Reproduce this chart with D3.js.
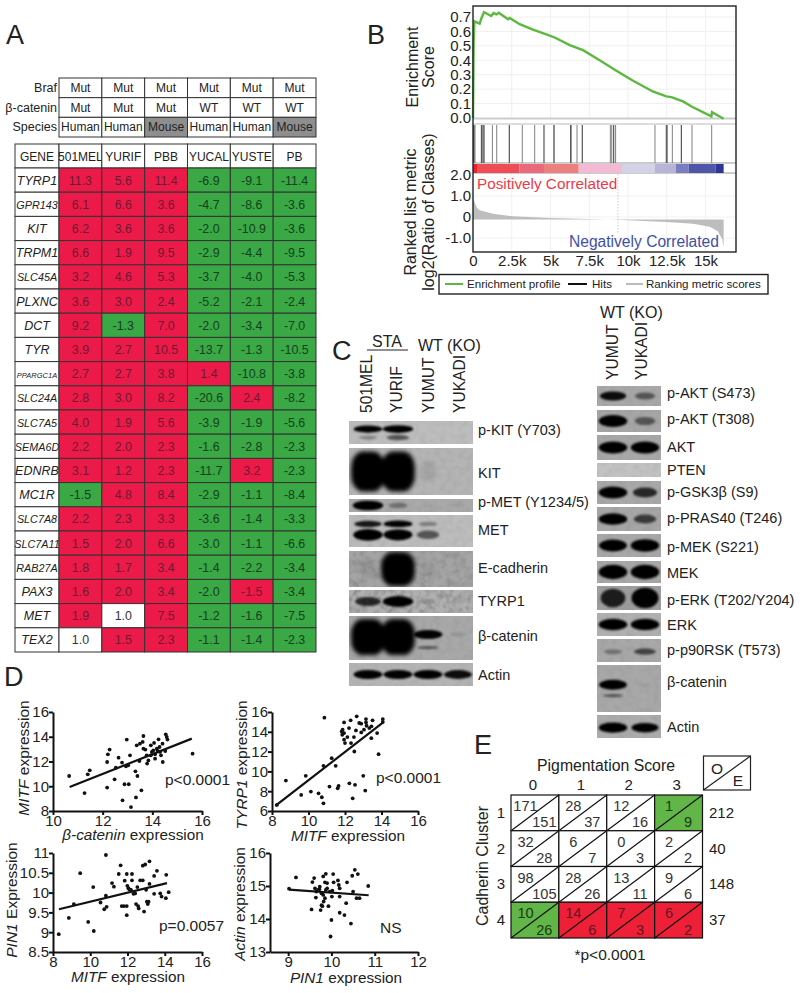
<!DOCTYPE html>
<html>
<head>
<meta charset="utf-8">
<script src="https://cdn.jsdelivr.net/npm/d3@7"></script>
<style>
body { margin: 0; background: #fff; }
text { font-family: "Liberation Sans", Arial, sans-serif; fill: #222; }
</style>
</head>
<body>
<div id="chart"></div>
<script>
// Panel A
const samples = ["501MEL", "YURIF", "PBB", "YUCAL", "YUSTE", "PB"];
const metaNames = ["Braf", "β-catenin", "Species"];
const brafRow = ["Mut", "Mut", "Mut", "Mut", "Mut", "Mut"];
const cateninRow = ["Mut", "Mut", "Mut", "WT", "WT", "WT"];
const speciesRow = ["Human", "Human", "Mouse", "Human", "Human", "Mouse"];
const genes = ["TYRP1", "GPR143", "KIT", "TRPM1", "SLC45A", "PLXNC", "DCT", "TYR", "PPARGC1A", "SLC24A",
    "SLC7A5", "SEMA6D", "EDNRB", "MC1R", "SLC7A8", "SLC7A11", "RAB27A", "PAX3", "MET", "TEX2"];
const val501MEL = [11.3, 6.1, 6.2, 6.6, 3.2, 3.6, 9.2, 3.9, 2.7, 2.8, 4.0, 2.2, 3.1, -1.5, 2.2, 1.5, 1.8, 1.6, 1.9, 1.0];
const valYURIF = [5.6, 6.6, 3.6, 1.9, 4.6, 3.0, -1.3, 2.7, 2.7, 3.0, 1.9, 2.0, 1.2, 4.8, 2.3, 2.0, 1.7, 2.0, 1.0, 1.5];
const valPBB = [11.4, 3.6, 3.6, 9.5, 5.3, 2.4, 7.0, 10.5, 3.8, 8.2, 5.6, 2.3, 2.3, 8.4, 3.3, 6.6, 3.4, 3.4, 7.5, 2.3];
const valYUCAL = [-6.9, -4.7, -2.0, -2.9, -3.7, -5.2, -2.0, -13.7, 1.4, -20.6, -3.9, -1.6, -11.7, -2.9, -3.6, -3.0, -1.4, -2.0, -1.2, -1.1];
const valYUSTE = [-9.1, -8.6, -10.9, -4.4, -4.0, -2.1, -3.4, -1.3, -10.8, 2.4, -1.9, -2.8, 3.2, -1.1, -1.4, -1.1, -2.2, -1.5, -1.6, -1.4];
const valPB = [-11.4, -3.6, -3.6, -9.5, -5.3, -2.4, -7.0, -10.5, -3.8, -8.2, -5.6, -2.3, -2.3, -8.4, -3.3, -6.6, -3.4, -3.4, -7.5, -2.3];

// Panel B
const esK = [0, 0.02, 0.04, 0.09, 0.43, 0.54, 0.71, 1.18, 1.33, 1.51, 1.66, 2.26, 2.37, 3.01, 3.87, 4.73, 5.27, 6.24, 7.1, 8.17, 9.25, 10.3, 11.6, 12.47, 12.8, 13.55, 14.1, 15.38, 15.42, 16.17];
const esVal = [0, 0.24, 0.52, 0.67, 0.654, 0.69, 0.734, 0.707, 0.727, 0.718, 0.73, 0.684, 0.693, 0.65, 0.613, 0.58, 0.558, 0.505, 0.47, 0.40, 0.328, 0.26, 0.184, 0.15, 0.145, 0.115, 0.08, 0.011, 0.04, -0.005];
const hitK = [0.04, 0.09, 0.13, 0.54, 0.60, 0.65, 0.71, 1.25, 1.53, 2.34, 3.18, 3.98, 4.58, 5.2, 5.25, 6.3, 6.34, 6.71, 7.05, 8.86, 8.95, 9.08, 9.2, 11.74, 12.47, 12.54, 12.86, 13.44, 14.13, 15.4];
const bandEdges = [0, 0.26, 3.0, 4.58, 6.82, 9.61, 11.72, 13.08, 13.91, 15.66, 16.17];
const bandColors = ["#e8212a", "#ef4d55", "#ea6a7b", "#ee7f7f", "#f4b9d3", "#d4d2e8", "#b8b4d8", "#7a7ec0", "#4f56a8", "#2f3595"];
const metricK = [0, 0.04, 0.26, 0.43, 1.29, 2.58, 4.95, 9.25, 12.47, 14.2, 15.27, 15.8, 16.09, 16.17];
const metricVal = [0.98, 0.82, 0.43, 0.32, 0.16, 0.03, -0.05, -0.13, -0.24, -0.32, -0.47, -0.68, -1.07, -1.47];

// Panel C
const leftLanes = ["501MEL", "YURIF", "YUMUT", "YUKADI"];
const rightLanes = ["YUMUT", "YUKADI"];
const leftBlotNames = ["p-KIT (Y703)", "KIT", "p-MET (Y1234/5)", "MET", "E-cadherin", "TYRP1", "β-catenin", "Actin"];
const leftBlotLevels = [
    [[0.9, 1, 0, 0], [0.25, 0.5, 0, 0]],
    [[1, 1, 0.08, 0]],
    [[1, 0.3, 0.04, 0.05]],
    [[0.8, 0.9, 0.3, 0], [0.95, 0.9, 0.5, 0]],
    [[0.08, 1, 0.05, 0]],
    [[0.7, 1, 0.12, 0.08]],
    [[1, 1, 0, 0], [0, 0, 0.9, 0.1], [0, 0, 0.45, 0]],
    [[0.9, 0.9, 0.9, 0.85]]
];
const rightBlotNames = ["p-AKT (S473)", "p-AKT (T308)", "AKT", "PTEN", "p-GSK3β (S9)", "p-PRAS40 (T246)", "p-MEK (S221)", "MEK",
    "p-ERK (T202/Y204)", "ERK", "p-p90RSK (T573)", "β-catenin", "Actin"];
const rightBlotLevels = [
    [[0.85, 0.45]], [[1, 0.45]], [[1, 1]], [[0.05, 0]], [[1, 0.7]], [[1, 0.6]], [[0.95, 1]], [[1, 1]],
    [[0.75, 0.9]], [[1, 1]], [[0.3, 0.55]], [[0.95, 0.05], [0.45, 0]], [[1, 0.9]]
];

// Panel D
const catX = [10.65, 11.27, 11.40, 11.48, 12.18, 12.18, 12.21, 12.28, 12.48, 12.64, 12.53, 12.78, 12.80, 12.88, 13.05, 12.97, 13.10, 13.14, 13.34, 13.32, 13.40, 13.56, 13.37, 13.50, 13.64, 13.61, 13.64, 13.72, 13.48, 13.79, 13.84, 13.94, 14.07, 14.25, 14.41, 14.54, 14.58, 14.61, 14.42, 14.35, 14.52, 14.18, 14.04, 14.29, 14.11, 13.94, 13.77, 15.62, 13.03, 12.94, 14.31, 13.98, 14.11, 14.22];
const mitfY = [10.83, 9.45, 10.96, 11.29, 9.89, 11.96, 12.58, 12.96, 10.56, 12.31, 11.50, 11.91, 8.86, 10.16, 10.16, 13.77, 12.50, 8.32, 9.10, 11.21, 10.83, 9.67, 13.31, 13.44, 14.06, 13.58, 13.04, 12.96, 12.04, 11.83, 12.09, 13.31, 13.50, 13.79, 13.44, 14.20, 13.98, 13.77, 11.96, 12.50, 12.85, 13.04, 12.90, 13.17, 12.23, 12.50, 12.50, 12.63, 11.69, 11.61, 12.77, 12.77, 12.58, 12.85];
const mitfX2 = [8.27, 8.76, 9.60, 9.85, 10.13, 10.55, 10.73, 10.82, 10.87, 10.82, 11.27, 11.49, 11.15, 11.60, 11.65, 12.24, 12.42, 12.55, 13.00, 13.11, 13.84, 11.95, 12.31, 12.64, 13.15, 13.51, 14.07, 14.07, 11.82, 11.85, 11.95, 11.95, 12.00, 12.13, 12.22, 12.33, 12.49, 12.51, 12.60, 12.78, 12.89, 12.89, 13.04, 13.18, 13.33, 13.45, 13.44, 13.76, 13.15, 11.87];
const tyrp1Y = [6.61, 9.07, 7.62, 9.55, 7.96, 7.79, 7.39, 6.78, 15.43, 10.56, 11.34, 10.56, 8.47, 8.30, 8.53, 8.80, 7.28, 8.64, 9.55, 8.06, 11.74, 14.95, 15.16, 15.56, 15.29, 15.16, 15.29, 14.99, 14.04, 13.70, 13.87, 13.20, 12.86, 13.47, 14.38, 12.86, 13.47, 12.01, 14.14, 14.89, 14.82, 13.94, 14.21, 14.61, 14.38, 14.55, 13.36, 13.87, 14.95, 14.21];
const mitfX3 = [8.31, 8.85, 9.12, 9.46, 9.89, 10.19, 10.16, 10.55, 10.75, 10.88, 10.84, 10.84, 11.17, 11.27, 11.53, 11.63, 11.69, 11.81, 11.96, 11.96, 11.96, 11.85, 11.99, 12.10, 12.24, 12.24, 12.32, 12.46, 12.53, 12.57, 12.60, 12.68, 12.82, 12.82, 12.95, 12.89, 13.00, 13.04, 13.13, 13.18, 13.18, 13.09, 13.43, 13.43, 13.58, 13.76, 13.83, 14.06, 14.08, 14.21, 12.05, 12.19, 12.41];
const pin1Y = [8.95, 9.36, 9.71, 10.49, 9.26, 9.03, 10.14, 9.75, 9.58, 9.64, 10.95, 9.92, 10.24, 10.15, 10.47, 10.69, 9.66, 9.66, 9.66, 9.43, 10.47, 10.30, 10.17, 10.08, 10.47, 10.31, 9.97, 9.71, 10.14, 9.66, 9.60, 10.31, 10.31, 10.68, 10.71, 9.52, 10.07, 9.77, 9.77, 10.79, 10.22, 9.71, 9.97, 10.42, 10.55, 9.98, 9.90, 9.86, 10.45, 10.01, 10.11, 10.07, 9.98];
const pin1X = [9.02, 9.18, 9.56, 9.60, 9.62, 9.65, 9.64, 9.54, 9.75, 9.81, 9.87, 9.73, 9.69, 9.77, 9.85, 9.90, 9.85, 9.82, 9.79, 9.77, 9.93, 9.87, 9.90, 9.96, 10.02, 10.01, 10.04, 10.05, 10.15, 10.17, 10.19, 10.19, 10.00, 9.98, 10.19, 10.30, 10.34, 10.36, 10.45, 10.48, 10.54, 10.61, 10.50, 10.58, 10.65, 10.85, 9.81, 9.72];
const actinY = [14.92, 15.26, 15.12, 15.24, 14.93, 14.83, 14.65, 14.29, 14.27, 15.29, 15.37, 14.98, 14.88, 14.78, 15.11, 15.09, 14.63, 14.53, 14.39, 14.42, 14.39, 14.88, 14.93, 14.83, 14.86, 14.68, 15.36, 15.11, 15.17, 15.03, 14.93, 14.68, 13.97, 13.47, 14.19, 14.12, 14.48, 15.11, 13.86, 15.31, 15.49, 15.36, 14.83, 14.63, 14.63, 15.00, 14.73, 14.90];
const fitLines = [[10.67, 9.94, 15.59, 13.85], [8.18, 6.51, 14.09, 14.95], [8.32, 9.58, 14.12, 10.24], [9.02, 14.89, 10.86, 14.72]];

// Panel E
const pigmentScores = ["0", "1", "2", "3"];
const cadherinClusters = ["1", "2", "3", "4"];
const observed = [[171, 28, 12, 1], [32, 6, 0, 2], [98, 28, 13, 9], [10, 14, 7, 6]];
const expected = [[151, 37, 16, 9], [28, 7, 3, 2], [105, 26, 11, 6], [26, 6, 3, 2]];
const rowTotals = [212, 40, 148, 37];
const cellState = [["", "", "", "g"], ["", "", "", ""], ["", "", "", ""], ["g", "r", "r", "r"]];

const svg = d3.select("#chart").append("svg").attr("width", 800).attr("height", 993);
const defs = svg.append("defs");
defs.append("filter").attr("id", "blur").attr("x", "-30%").attr("y", "-100%").attr("width", "160%").attr("height", "300%")
    .append("feGaussianBlur").attr("stdDeviation", 1.1);
defs.append("filter").attr("id", "blurBig").attr("x", "-30%").attr("y", "-30%").attr("width", "160%").attr("height", "160%")
    .append("feGaussianBlur").attr("stdDeviation", 2.2);
const noise = defs.append("filter").attr("id", "grain").attr("x", 0).attr("y", 0).attr("width", "100%").attr("height", "100%");
noise.append("feTurbulence").attr("type", "fractalNoise").attr("baseFrequency", 0.15).attr("numOctaves", 2).attr("seed", 4);
noise.append("feColorMatrix").attr("values", "0 0 0 0 0  0 0 0 0 0  0 0 0 0 0  1.4 0 0 0 -0.55");

function label(x, y, str, size, opts = {}) {
    const t = svg.append("text").attr("font-size", size).attr("text-anchor", opts.anchor || "start");
    if (opts.rotate) t.attr("transform", `translate(${x},${y}) rotate(-90)`);
    else t.attr("x", x).attr("y", y);
    if (opts.fill) t.style("fill", opts.fill);
    if (opts.italic) t.attr("font-style", "italic");
    t.text(str);
    return t;
}

[["A", 6, 44], ["B", 367, 44], ["C", 332, 360], ["D", 4, 686], ["E", 474, 754]].forEach(d => label(d[1], d[2], d[0], 27));

// ---- A ----
const colX = d3.scaleBand().domain(samples).range([59, 316]);
const metaY = d3.scaleBand().domain(metaNames).range([78, 137]);
const metaRows = [brafRow, cateninRow, speciesRow];
metaNames.forEach((name, r) => {
    label(57, metaY(name) + 14, name, 12.5, { anchor: "end" });
    samples.forEach((s, c) => {
        svg.append("rect").attr("x", colX(s)).attr("y", metaY(name))
            .attr("width", colX.bandwidth()).attr("height", metaY.bandwidth())
            .attr("fill", metaRows[r][c] === "Mouse" ? "#8e8e8e" : "#fff").attr("stroke", "#333").attr("stroke-width", 1);
        label(colX(s) + colX.bandwidth() / 2, metaY(name) + 14, metaRows[r][c], 12, { anchor: "middle" });
    });
});

const geneY = d3.scaleBand().domain(genes).range([168, 652]);
const sampleValues = [val501MEL, valYURIF, valPBB, valYUCAL, valYUSTE, valPB];
const tableInk = "#333";
svg.append("rect").attr("x", 15).attr("y", 144).attr("width", 44).attr("height", 24).attr("fill", "#fff").attr("stroke", tableInk);
label(37, 161, "GENE", 12, { anchor: "middle" });
samples.forEach(s => {
    svg.append("rect").attr("x", colX(s)).attr("y", 144).attr("width", colX.bandwidth()).attr("height", 24).attr("fill", "#fff").attr("stroke", tableInk);
    label(colX(s) + colX.bandwidth() / 2, 161, s, 12, { anchor: "middle" });
});
genes.forEach((g, r) => {
    svg.append("rect").attr("x", 15).attr("y", geneY(g)).attr("width", 44).attr("height", geneY.bandwidth()).attr("fill", "#fff").attr("stroke", tableInk);
    const size = g === "PPARGC1A" ? 7.5 : g.length >= 6 ? 10.8 : 12.5;
    label(37, geneY(g) + 16.5, g, size, { anchor: "middle", italic: true });
    samples.forEach((s, c) => {
        const v = sampleValues[c][r];
        const isRed = v > 1 || (g === "PAX3" && s === "YUSTE");
        const fill = v === 1 ? "#fff" : isRed ? "#ec1a48" : "#39a845";
        svg.append("rect").attr("x", colX(s)).attr("y", geneY(g)).attr("width", colX.bandwidth()).attr("height", geneY.bandwidth())
            .attr("fill", fill).attr("stroke", tableInk);
        label(colX(s) + colX.bandwidth() / 2, geneY(g) + 16.5, v.toFixed(1), 12.4, {
            anchor: "middle", fill: v === 1 ? "#333" : isRed ? "#6d1a30" : "#14401f"
        });
    });
});

// ---- B ----
const kX = d3.scaleLinear().domain([0, 17]).range([473, 736.5]);
const esY = d3.scaleLinear().domain([0, 0.7]).range([118, 17]);
const metricY = d3.scaleLinear().domain([-1, 2]).range([238, 175]);
const gridK = [2.5, 5, 7.5, 10, 12.5, 15];

svg.append("g").selectAll("line").data(gridK).join("line")
    .attr("x1", kX).attr("x2", kX).attr("y1", 6).attr("y2", 118).attr("stroke", "#efefef");
svg.append("g").selectAll("line").data(d3.range(0.1, 0.75, 0.1)).join("line")
    .attr("x1", 473).attr("x2", 736).attr("y1", esY).attr("y2", esY).attr("stroke", "#efefef");
svg.append("g").selectAll("line").data(gridK).join("line")
    .attr("x1", kX).attr("x2", kX).attr("y1", 173).attr("y2", 252).attr("stroke", "#f1f1f1");
svg.append("g").selectAll("line").data([1, 0, -1]).join("line")
    .attr("x1", 473).attr("x2", 736).attr("y1", metricY).attr("y2", metricY).attr("stroke", "#f1f1f1");

svg.append("line").attr("x1", 473).attr("x2", 736).attr("y1", 118.5).attr("y2", 118.5).attr("stroke", "#ccc").attr("stroke-width", 2);
svg.append("line").attr("x1", 473).attr("x2", 736).attr("y1", 124).attr("y2", 124).attr("stroke", "#bbb");
svg.append("line").attr("x1", 473).attr("x2", 736).attr("y1", 163).attr("y2", 163).attr("stroke", "#999");
svg.append("line").attr("x1", 473).attr("x2", 736).attr("y1", 173).attr("y2", 173).attr("stroke", "#999");

svg.append("path").datum(esK.map((k, i) => [k, esVal[i]]))
    .attr("d", d3.line().x(d => kX(d[0])).y(d => esY(d[1])))
    .attr("fill", "none").attr("stroke", "#5cb83f").attr("stroke-width", 2.4);

svg.append("g").selectAll("line").data(hitK).join("line")
    .attr("x1", kX).attr("x2", kX).attr("y1", 125).attr("y2", 163)
    .attr("stroke", (d, i) => i % 3 === 0 ? "#333" : "#808080").attr("stroke-width", 1);

svg.append("g").selectAll("rect").data(bandColors).join("rect")
    .attr("x", (d, i) => kX(bandEdges[i])).attr("y", 164).attr("height", 9)
    .attr("width", (d, i) => kX(bandEdges[i + 1]) - kX(bandEdges[i])).attr("fill", d => d);

svg.append("line").attr("x1", kX(9.35)).attr("x2", kX(9.35)).attr("y1", 174).attr("y2", 234)
    .attr("stroke", "#ccc").attr("stroke-dasharray", "1.5,1.5");

svg.append("path").datum(metricK.map((k, i) => [k, metricVal[i]]))
    .attr("d", d3.area().x(d => kX(d[0])).y0(metricY(-0.12)).y1(d => metricY(d[1])))
    .attr("fill", "#bdbdbd");

svg.append("rect").attr("x", 473).attr("y", 6).attr("width", 263).attr("height", 246)
    .attr("fill", "none").attr("stroke", "#222").attr("stroke-width", 1.4);

const esAxis = svg.append("g").attr("transform", "translate(471,0)")
    .call(d3.axisLeft(esY).tickValues(d3.range(0, 0.75, 0.1)).tickFormat(d3.format(".1f")).tickSize(0).tickPadding(0));
const metricAxis = svg.append("g").attr("transform", "translate(471,0)")
    .call(d3.axisLeft(metricY).tickValues([2, 1, 0, -1]).tickFormat(d => d === 0 ? "0" : d.toFixed(1)).tickSize(0).tickPadding(0));
const kAxis = svg.append("g").attr("transform", "translate(0,255)")
    .call(d3.axisBottom(kX).tickValues([0].concat(gridK)).tickFormat(d => d === 0 ? "0" : d + "k").tickSize(0).tickPadding(0));
[esAxis, metricAxis, kAxis].forEach(a => {
    a.select(".domain").remove();
    a.selectAll("text").attr("font-size", 15);
});

label(418, 67, "Enrichment", 16, { anchor: "middle", rotate: true });
label(434, 67, "Score", 16, { anchor: "middle", rotate: true });
label(416, 212, "Ranked list metric", 16, { anchor: "middle", rotate: true });
label(434, 212, "log2(Ratio of Classes)", 16, { anchor: "middle", rotate: true });
label(477, 189, "Positively Correlated", 15.3, { fill: "#ee3a48" });
label(569, 247, "Negatively Correlated", 15.6, { fill: "#4250a4" });

svg.append("rect").attr("x", 439).attr("y", 274.5).attr("width", 329).attr("height", 19.5)
    .attr("fill", "#fff").attr("stroke", "#222").attr("stroke-width", 1.4);
[[445, 463, "#5cb83f", 467, "Enrichment profile"], [568, 587, "#111", 592, "Hits"], [626, 643, "#bbb", 646, "Ranking metric scores"]]
    .forEach(d => {
        svg.append("line").attr("x1", d[0]).attr("x2", d[1]).attr("y1", 284).attr("y2", 284).attr("stroke", d[2]).attr("stroke-width", 2);
        label(d[3], 288, d[4], 11.6);
    });

// ---- C ----
function drawBlots(laneNames, laneRange, x0, x1, rows, levels, names, laneHalf, labelX) {
    const laneX = d3.scalePoint().domain(laneNames).range(laneRange);
    rows.forEach((row, r) => {
        const [y0, y1, labelY, bands, gray] = row;
        const id = `clip-${x0}-${r}`;
        defs.append("clipPath").attr("id", id).append("rect").attr("x", x0).attr("y", y0).attr("width", x1 - x0).attr("height", y1 - y0);
        svg.append("rect").attr("x", x0).attr("y", y0).attr("width", x1 - x0).attr("height", y1 - y0).attr("fill", gray);
        svg.append("rect").attr("x", x0).attr("y", y0).attr("width", x1 - x0).attr("height", y1 - y0)
            .attr("filter", "url(#grain)").attr("opacity", row[5] || 0.07);
        const g = svg.append("g").attr("clip-path", `url(#${id})`);
        levels[r].forEach((lv, b) => {
            const [at, ry] = bands[b];
            const big = ry > 10;
            const halfH = d => ry * (big ? 0.45 + 0.55 * d : 0.5 + 0.7 * d);
            const halfW = d => laneHalf * (big ? 0.45 + 0.6 * d : 0.45 + 0.5 * d);
            // thin bands taper like ellipses, the overloaded ones stay blocky
            g.append("g").attr("filter", big ? "url(#blurBig)" : "url(#blur)")
                .selectAll("rect").data(lv).join("rect")
                .attr("x", (d, i) => laneX(laneNames[i]) - halfW(d))
                .attr("y", d => y0 + (y1 - y0) * at - halfH(d))
                .attr("width", d => 2 * halfW(d))
                .attr("height", d => 2 * halfH(d))
                .attr("rx", d => big ? halfW(d) * 0.7 : halfW(d))
                .attr("ry", d => big ? halfH(d) * 0.8 : halfH(d))
                .attr("fill", "#050505")
                .attr("opacity", d => Math.min(1, d * 1.1));
        });
        label(labelX, labelY, names[r], 14.5);
    });
}

const leftRows = [
    [421, 444, 435, [[0.35, 3.2], [0.72, 3.2]], "#bdbdbd"],
    [448, 495, 478, [[0.5, 20]], "#b4b4b4"],
    [499, 512, 507, [[0.5, 4]], "#a9a9a9"],
    [515, 547, 535, [[0.28, 3], [0.62, 5]], "#bcbcbc"],
    [551, 587, 573, [[0.5, 17]], "#a4a4a4", 0.2],
    [590, 613, 606, [[0.5, 4.5]], "#b0b0b0", 0.32],
    [616, 660, 641, [[0.48, 18], [0.42, 4], [0.72, 2]], "#a8a8a8"],
    [663, 686, 680, [[0.5, 4]], "#b4b4b4"]
];
drawBlots(leftLanes, [368, 458], 349, 473, leftRows, leftBlotLevels, leftBlotNames, 16, 478);

const rightRows = [
    [386, 406, 398, [[0.5, 4.2]], "#a8a8a8"],
    [410, 432, 424, [[0.5, 5]], "#a6a6a6"],
    [435, 460, 452, [[0.5, 5]], "#a8a8a8"],
    [463, 477, 475, [[0.5, 1.2]], "#c2c2c2"],
    [481, 504, 497, [[0.5, 5]], "#a8a8a8"],
    [507, 531, 523, [[0.5, 4.8]], "#a6a6a6"],
    [534, 557, 552, [[0.5, 5.2]], "#a8a8a8"],
    [561, 583, 578, [[0.5, 6]], "#a8a8a8"],
    [586, 610, 605, [[0.5, 9]], "#9e9e9e"],
    [613, 636, 630, [[0.5, 4.8]], "#b0b0b0"],
    [639, 662, 655, [[0.55, 3.5]], "#a8a8a8"],
    [665, 712, 687, [[0.42, 4.2], [0.65, 2]], "#a8a8a8"],
    [715, 738, 732, [[0.55, 4.2]], "#acacac"]
];
drawBlots(rightLanes, [613, 645], 597, 661, rightRows, rightBlotLevels, rightBlotNames, 15, 667);

label(387, 347, "STA", 16, { anchor: "middle" });
svg.append("line").attr("x1", 367).attr("x2", 408).attr("y1", 350).attr("y2", 350).attr("stroke", "#222");
label(418, 351, "WT (KO)", 16);
[[372, "501MEL"], [402, "YURIF"], [434, "YUMUT"], [465, "YUKADI"]].forEach(d => label(d[0], 413, d[1], 15.6, { rotate: true }));
label(600, 318, "WT (KO)", 16);
[[618, "YUMUT"], [647, "YUKADI"]].forEach(d => label(d[0], 380, d[1], 15.6, { rotate: true }));

// ---- D ----
function scatter(opts) {
    const x = d3.scaleLinear().domain(opts.xDomain).range([opts.left, opts.right]);
    const y = d3.scaleLinear().domain(opts.yDomain).range([opts.bottom, opts.top]);
    const ax = svg.append("g").attr("transform", `translate(0,${opts.bottom})`)
        .call(d3.axisBottom(x).tickValues(opts.xTicks).tickFormat(String).tickSize(4).tickSizeOuter(0).tickPadding(0));
    const ay = svg.append("g").attr("transform", `translate(${opts.left},0)`)
        .call(d3.axisLeft(y).tickValues(opts.yTicks).tickFormat(String).tickSize(4).tickSizeOuter(0).tickPadding(0));
    [ax, ay].forEach(a => {
        a.selectAll(".domain,line").attr("stroke", "#111").attr("stroke-width", 2);
        a.selectAll("text").attr("font-size", 15);
    });
    svg.append("g").selectAll("circle").data(opts.xs).join("circle")
        .attr("cx", d => x(d)).attr("cy", (d, i) => y(opts.ys[i])).attr("r", 1.9).attr("fill", "#111");
    svg.append("line").attr("x1", x(opts.fit[0])).attr("y1", y(opts.fit[1]))
        .attr("x2", x(opts.fit[2])).attr("y2", y(opts.fit[3])).attr("stroke", "#111").attr("stroke-width", 2.2);
    const yl = label(opts.yLabelPos[0], opts.yLabelPos[1], "", 15.5, { anchor: "middle", rotate: true });
    yl.append("tspan").attr("font-style", "italic").text(opts.yName);
    yl.append("tspan").text(" " + opts.yWord);
    const xl = label(opts.xLabelPos[0], opts.xLabelPos[1], "", 15.3, { anchor: "middle" });
    xl.append("tspan").attr("font-style", "italic").text(opts.xName);
    xl.append("tspan").text(" expression");
    label(opts.statPos[0], opts.statPos[1], opts.stat, 15.5);
}

scatter({
    xs: catX, ys: mitfY, fit: fitLines[0], xDomain: [10, 16], yDomain: [8, 16], left: 53, right: 202, top: 712, bottom: 811,
    xTicks: [10, 12, 14, 16], yTicks: [8, 10, 12, 14, 16], yName: "MITF", yWord: "expression", xName: "β-catenin",
    yLabelPos: [29, 758], xLabelPos: [133, 840], stat: "p<0.0001", statPos: [165, 785]
});
scatter({
    xs: mitfX2, ys: tyrp1Y, fit: fitLines[1], xDomain: [8, 16], yDomain: [6, 16], left: 272, right: 418, top: 712, bottom: 811,
    xTicks: [8, 10, 12, 14, 16], yTicks: [6, 8, 10, 12, 14, 16], yName: "TYRP1", yWord: "expression", xName: "MITF",
    yLabelPos: [247, 765], xLabelPos: [348, 841], stat: "p<0.0001", statPos: [376, 783]
});
scatter({
    xs: mitfX3, ys: pin1Y, fit: fitLines[2], xDomain: [8, 16], yDomain: [8.5, 11], left: 53, right: 202, top: 853, bottom: 952,
    xTicks: [8, 10, 12, 14, 16], yTicks: [8.5, 9, 9.5, 10, 10.5, 11], yName: "PIN1", yWord: "Expression", xName: "MITF",
    yLabelPos: [17, 900], xLabelPos: [128, 982], stat: "p=0.0057", statPos: [159, 931]
});
scatter({
    xs: pin1X, ys: actinY, fit: fitLines[3], xDomain: [8.58, 12], yDomain: [13, 16], left: 270, right: 418, top: 853, bottom: 952,
    xTicks: [9, 10, 11, 12], yTicks: [13, 14, 15, 16], yName: "Actin", yWord: "expression", xName: "PIN1",
    yLabelPos: [245, 904], xLabelPos: [346, 983], stat: "NS", statPos: [380, 933]
});

// ---- E ----
const pigX = d3.scaleBand().domain(pigmentScores).range([511, 702.5]);
const cadY = d3.scaleBand().domain(cadherinClusters).range([795, 938]);
label(606, 771, "Pigmentation Score", 15.8, { anchor: "middle" });
pigmentScores.forEach(p => label(pigX(p) + pigX.bandwidth() / 2 - 2, 790, p, 15, { anchor: "middle" }));
label(488, 866, "Cadherin Cluster", 16, { anchor: "middle", rotate: true });
cadherinClusters.forEach((c, r) => {
    label(501, cadY(c) + cadY.bandwidth() / 2 + 5, c, 15, { anchor: "middle" });
    label(709, cadY(c) + cadY.bandwidth() / 2 + 5, rowTotals[r], 15);
    pigmentScores.forEach((p, k) => {
        const x = pigX(p), y = cadY(c), w = pigX.bandwidth(), h = cadY.bandwidth();
        const st = cellState[r][k];
        const ink = st === "r" ? "#5f1722" : st === "g" ? "#1a3a14" : "#333";
        svg.append("rect").attr("x", x).attr("y", y).attr("width", w).attr("height", h)
            .attr("fill", st === "r" ? "#ee2038" : st === "g" ? "#62b547" : "#fff").attr("stroke", "#111").attr("stroke-width", 1.2);
        svg.append("line").attr("x1", x).attr("y1", y + h).attr("x2", x + w).attr("y2", y).attr("stroke", "#111").attr("stroke-width", 1.2);
        label(x + 14.5, y + 16, observed[r][k], 14.6, { anchor: "middle", fill: ink });
        label(x + w - 14.5, y + h - 3.5, expected[r][k], 14.6, { anchor: "middle", fill: ink });
    });
});
svg.append("rect").attr("x", 703.5).attr("y", 756).attr("width", 47).attr("height", 34).attr("fill", "#fff").attr("stroke", "#222").attr("stroke-width", 1.2);
svg.append("line").attr("x1", 703.5).attr("y1", 790).attr("x2", 750.5).attr("y2", 756).attr("stroke", "#222").attr("stroke-width", 1.2);
label(717, 774, "O", 15.5, { anchor: "middle" });
label(738, 786, "E", 15.5, { anchor: "middle" });
label(610, 960, "*p<0.0001", 15.5, { anchor: "middle" });
</script>
</body>
</html>
